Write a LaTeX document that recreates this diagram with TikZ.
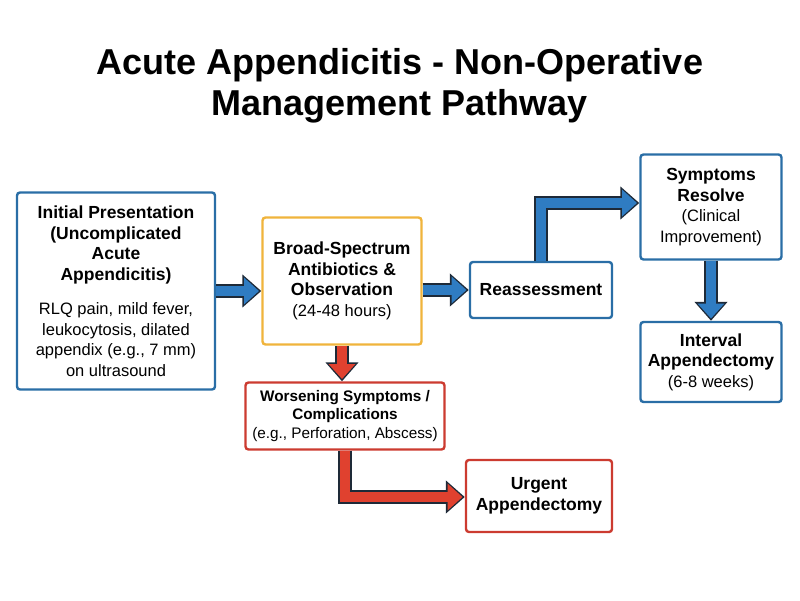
\documentclass[tikz,border=0pt]{standalone}
\usepackage{fontspec}
\setmainfont{Liberation Sans}
\usetikzlibrary{arrows.meta}
\definecolor{bbord}{HTML}{2A6EA6}
\definecolor{bfill}{HTML}{2F7CC2}
\definecolor{ybord}{HTML}{F0B43C}
\definecolor{rbord}{HTML}{CC3B30}
\definecolor{rfill}{HTML}{E0412F}
\definecolor{dk}{HTML}{1E2A38}
\tikzset{
 box/.style={draw, line width=2.4pt, rounded corners=3pt, fill=white, align=center, inner sep=1pt, font=\fontsize{16.5}{20.5}\selectfont},
 bb/.style={box, draw=bbord},
 yb/.style={box, draw=ybord},
 rb/.style={box, draw=rbord},
 outer/.style={draw=dk, line width=14pt, -{Triangle[length=19pt,width=32pt]}},
 inner/.style={line width=10pt, shorten >=2.3pt, -{Triangle[length=15pt,width=26pt]}},
}
\newcommand{\barrow}[2]{\draw[outer] #1; \draw[inner,draw=#2] #1;}
\newcommand{\bt}[1]{{\fontsize{17.5}{20.5}\selectfont\bfseries #1}}
\begin{document}
\begin{tikzpicture}[x=1pt,y=-1pt]
\useasboundingbox (0,0) rectangle (800,600);
\node[font=\fontsize{36}{41}\selectfont\bfseries, align=center] (title) at (400,86) {Acute Appendicitis - Non-Operative\\Management Pathway};
\node[bb, minimum width=198pt, minimum height=197pt] (init) at (116,291) {\bt{Initial Presentation}\\\bt{(Uncomplicated}\\\bt{Acute}\\\bt{Appendicitis)}\\[14pt]RLQ pain, mild fever,\\leukocytosis, dilated\\appendix (e.g., 7 mm)\\on ultrasound};
\node[yb, minimum width=159pt, minimum height=127pt] (abx) at (342,281) {\bt{Broad-Spectrum}\\\bt{Antibiotics \&}\\\bt{Observation}\\(24-48 hours)};
\node[bb, minimum width=142pt, minimum height=56pt] (re) at (541,290) {\bt{Reassessment}};
\node[bb, minimum width=141pt, minimum height=105pt] (sr) at (711,207) {\bt{Symptoms}\\\bt{Resolve}\\(Clinical\\Improvement)};
\node[bb, minimum width=141pt, minimum height=80pt] (ia) at (711,362) {\bt{Interval}\\\bt{Appendectomy}\\(6-8 weeks)};
\node[rb, minimum width=199pt, minimum height=67pt, font=\fontsize{15.3}{18.5}\selectfont] (wo) at (345,416) {\textbf{Worsening Symptoms /}\\\textbf{Complications}\\(e.g., Perforation, Abscess)};
\node[rb, minimum width=146pt, minimum height=72pt] (ua) at (539,496) {\bt{Urgent}\\\bt{Appendectomy}};
\coordinate (c1) at (541,203);
\coordinate (c2) at (345,497);
\barrow{(init.east) -- (abx.west |- init.east)}{bfill}
\barrow{(abx.east |- re.west) -- (re.west)}{bfill}
\barrow{(re.north) -- (c1) -- (sr.west |- c1)}{bfill}
\barrow{(sr.south) -- (ia.north)}{bfill}
\barrow{(abx.south) -- (abx.south |- wo.north)}{rfill}
\barrow{(wo.south) -- (c2) -- (ua.west |- c2)}{rfill}
\end{tikzpicture}
\end{document}
